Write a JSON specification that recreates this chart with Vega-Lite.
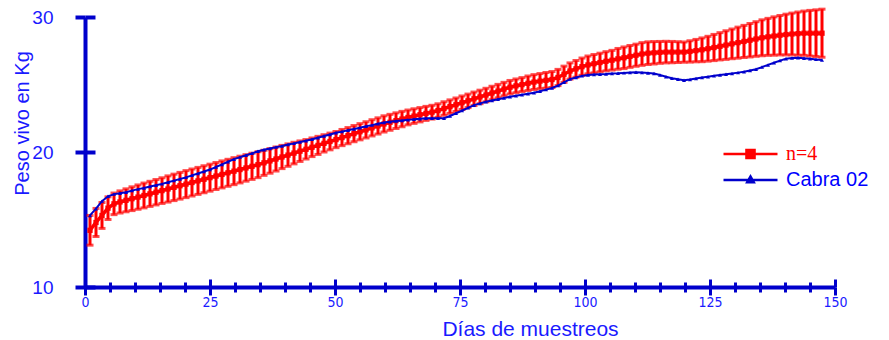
{
  "$schema": "https://vega.github.io/schema/vega-lite/v6.json",
  "width": 750,
  "height": 270,
  "autosize": "none",
  "padding": {"left": 85, "top": 17, "right": 54, "bottom": 53},
  "background": "white",
  "datasets": {
    "red": [
      {"d":1.0,"m":14.2,"lo":13.1,"hi":15.3},{"d":2.2,"m":14.78,"lo":13.74,"hi":15.82},{"d":3.4,"m":15.3,"lo":14.34,"hi":16.26},{"d":4.6,"m":15.84,"lo":15.0,"hi":16.68},{"d":5.8,"m":16.16,"lo":15.36,"hi":16.96},
      {"d":7.0,"m":16.3,"lo":15.48,"hi":17.12},{"d":8.2,"m":16.42,"lo":15.57,"hi":17.27},{"d":9.4,"m":16.54,"lo":15.66,"hi":17.42},{"d":10.6,"m":16.66,"lo":15.76,"hi":17.56},{"d":11.8,"m":16.78,"lo":15.86,"hi":17.7},
      {"d":13.0,"m":16.9,"lo":15.97,"hi":17.83},{"d":14.2,"m":17.02,"lo":16.08,"hi":17.96},{"d":15.4,"m":17.14,"lo":16.19,"hi":18.09},{"d":16.6,"m":17.26,"lo":16.29,"hi":18.23},{"d":17.8,"m":17.38,"lo":16.4,"hi":18.36},
      {"d":19.0,"m":17.5,"lo":16.51,"hi":18.49},{"d":20.2,"m":17.62,"lo":16.62,"hi":18.62},{"d":21.4,"m":17.74,"lo":16.74,"hi":18.74},{"d":22.6,"m":17.86,"lo":16.86,"hi":18.86},{"d":23.8,"m":17.98,"lo":16.98,"hi":18.98},
      {"d":25.0,"m":18.1,"lo":17.1,"hi":19.1},{"d":26.2,"m":18.22,"lo":17.22,"hi":19.22},{"d":27.4,"m":18.34,"lo":17.34,"hi":19.34},{"d":28.6,"m":18.46,"lo":17.46,"hi":19.46},{"d":29.8,"m":18.58,"lo":17.58,"hi":19.58},
      {"d":31.0,"m":18.7,"lo":17.71,"hi":19.69},{"d":32.2,"m":18.82,"lo":17.84,"hi":19.8},{"d":33.4,"m":18.94,"lo":17.97,"hi":19.91},{"d":34.6,"m":19.06,"lo":18.1,"hi":20.02},{"d":35.8,"m":19.2,"lo":18.27,"hi":20.13},
      {"d":37.0,"m":19.34,"lo":18.43,"hi":20.25},{"d":38.2,"m":19.48,"lo":18.59,"hi":20.37},{"d":39.4,"m":19.63,"lo":18.77,"hi":20.49},{"d":40.6,"m":19.77,"lo":18.94,"hi":20.6},{"d":41.8,"m":19.92,"lo":19.12,"hi":20.72},
      {"d":43.0,"m":20.06,"lo":19.3,"hi":20.82},{"d":44.2,"m":20.2,"lo":19.48,"hi":20.92},{"d":45.4,"m":20.35,"lo":19.66,"hi":21.04},{"d":46.6,"m":20.49,"lo":19.82,"hi":21.16},{"d":47.8,"m":20.64,"lo":20.0,"hi":21.28},
      {"d":49.0,"m":20.78,"lo":20.16,"hi":21.4},{"d":50.2,"m":20.92,"lo":20.32,"hi":21.52},{"d":51.4,"m":21.07,"lo":20.47,"hi":21.67},{"d":52.6,"m":21.21,"lo":20.61,"hi":21.81},{"d":53.8,"m":21.36,"lo":20.76,"hi":21.96},
      {"d":55.0,"m":21.5,"lo":20.9,"hi":22.1},{"d":56.2,"m":21.64,"lo":21.04,"hi":22.24},{"d":57.4,"m":21.79,"lo":21.19,"hi":22.39},{"d":58.6,"m":21.93,"lo":21.33,"hi":22.53},{"d":59.8,"m":22.08,"lo":21.48,"hi":22.68},
      {"d":61.0,"m":22.2,"lo":21.61,"hi":22.79},{"d":62.2,"m":22.32,"lo":21.74,"hi":22.9},{"d":63.4,"m":22.44,"lo":21.87,"hi":23.01},{"d":64.6,"m":22.56,"lo":22.01,"hi":23.11},{"d":65.8,"m":22.66,"lo":22.12,"hi":23.2},
      {"d":67.0,"m":22.76,"lo":22.23,"hi":23.29},{"d":68.2,"m":22.86,"lo":22.34,"hi":23.38},{"d":69.4,"m":22.95,"lo":22.44,"hi":23.46},{"d":70.6,"m":23.07,"lo":22.57,"hi":23.57},{"d":71.8,"m":23.22,"lo":22.72,"hi":23.72},
      {"d":73.0,"m":23.36,"lo":22.86,"hi":23.86},{"d":74.2,"m":23.5,"lo":23.0,"hi":24.0},{"d":75.4,"m":23.65,"lo":23.15,"hi":24.15},{"d":76.6,"m":23.79,"lo":23.29,"hi":24.29},{"d":77.8,"m":23.94,"lo":23.44,"hi":24.44},
      {"d":79.0,"m":24.08,"lo":23.58,"hi":24.58},{"d":80.2,"m":24.22,"lo":23.72,"hi":24.72},{"d":81.4,"m":24.37,"lo":23.87,"hi":24.87},{"d":82.6,"m":24.51,"lo":24.01,"hi":25.01},{"d":83.8,"m":24.66,"lo":24.16,"hi":25.16},
      {"d":85.0,"m":24.8,"lo":24.3,"hi":25.3},{"d":86.2,"m":24.9,"lo":24.39,"hi":25.41},{"d":87.4,"m":24.99,"lo":24.47,"hi":25.51},{"d":88.6,"m":25.09,"lo":24.55,"hi":25.63},{"d":89.8,"m":25.18,"lo":24.63,"hi":25.73},
      {"d":91.0,"m":25.25,"lo":24.69,"hi":25.81},{"d":92.2,"m":25.31,"lo":24.73,"hi":25.89},{"d":93.4,"m":25.37,"lo":24.78,"hi":25.96},{"d":94.6,"m":25.52,"lo":24.92,"hi":26.12},{"d":95.8,"m":25.76,"lo":25.16,"hi":26.36},
      {"d":97.0,"m":26.0,"lo":25.4,"hi":26.6},{"d":98.2,"m":26.16,"lo":25.54,"hi":26.78},{"d":99.4,"m":26.32,"lo":25.68,"hi":26.96},{"d":100.6,"m":26.45,"lo":25.79,"hi":27.11},{"d":101.8,"m":26.54,"lo":25.86,"hi":27.22},
      {"d":103.0,"m":26.63,"lo":25.94,"hi":27.32},{"d":104.2,"m":26.72,"lo":26.01,"hi":27.43},{"d":105.4,"m":26.8,"lo":26.07,"hi":27.53},{"d":106.6,"m":26.9,"lo":26.13,"hi":27.67},{"d":107.8,"m":26.98,"lo":26.18,"hi":27.78},
      {"d":109.0,"m":27.08,"lo":26.27,"hi":27.89},{"d":110.2,"m":27.17,"lo":26.35,"hi":27.99},{"d":111.4,"m":27.26,"lo":26.42,"hi":28.1},{"d":112.6,"m":27.32,"lo":26.48,"hi":28.16},{"d":113.8,"m":27.35,"lo":26.52,"hi":28.18},
      {"d":115.0,"m":27.38,"lo":26.57,"hi":28.19},{"d":116.2,"m":27.4,"lo":26.6,"hi":28.2},{"d":117.4,"m":27.4,"lo":26.61,"hi":28.19},{"d":118.6,"m":27.4,"lo":26.63,"hi":28.17},{"d":119.8,"m":27.4,"lo":26.65,"hi":28.15},
      {"d":121.0,"m":27.45,"lo":26.66,"hi":28.24},{"d":122.2,"m":27.51,"lo":26.68,"hi":28.34},{"d":123.4,"m":27.57,"lo":26.69,"hi":28.45},{"d":124.6,"m":27.65,"lo":26.73,"hi":28.57},{"d":125.8,"m":27.74,"lo":26.77,"hi":28.71},
      {"d":127.0,"m":27.83,"lo":26.82,"hi":28.84},{"d":128.2,"m":27.92,"lo":26.86,"hi":28.98},{"d":129.4,"m":28.01,"lo":26.91,"hi":29.11},{"d":130.6,"m":28.1,"lo":26.95,"hi":29.25},{"d":131.8,"m":28.19,"lo":27.0,"hi":29.38},
      {"d":133.0,"m":28.28,"lo":27.04,"hi":29.52},{"d":134.2,"m":28.37,"lo":27.09,"hi":29.65},{"d":135.4,"m":28.46,"lo":27.13,"hi":29.79},{"d":136.6,"m":28.53,"lo":27.16,"hi":29.9},{"d":137.8,"m":28.59,"lo":27.17,"hi":30.01},
      {"d":139.0,"m":28.65,"lo":27.19,"hi":30.11},{"d":140.2,"m":28.7,"lo":27.19,"hi":30.21},{"d":141.4,"m":28.74,"lo":27.19,"hi":30.29},{"d":142.6,"m":28.77,"lo":27.17,"hi":30.37},{"d":143.8,"m":28.8,"lo":27.16,"hi":30.44},
      {"d":145.0,"m":28.8,"lo":27.11,"hi":30.49},{"d":146.2,"m":28.8,"lo":27.07,"hi":30.53},{"d":147.4,"m":28.8,"lo":27.02,"hi":30.58}
    ],
    "blue": [
      {"d":1.0,"w":15.3},{"d":2.2,"w":15.8},{"d":3.4,"w":16.36},{"d":4.6,"w":16.72},{"d":5.8,"w":16.88},
      {"d":7.0,"w":16.95},{"d":8.2,"w":17.02},{"d":9.4,"w":17.14},{"d":10.6,"w":17.25},{"d":11.8,"w":17.34},
      {"d":13.0,"w":17.44},{"d":14.2,"w":17.54},{"d":15.4,"w":17.64},{"d":16.6,"w":17.76},{"d":17.8,"w":17.88},
      {"d":19.0,"w":18.0},{"d":20.2,"w":18.12},{"d":21.4,"w":18.27},{"d":22.6,"w":18.41},{"d":23.8,"w":18.56},
      {"d":25.0,"w":18.7},{"d":26.2,"w":18.89},{"d":27.4,"w":19.08},{"d":28.6,"w":19.28},{"d":29.8,"w":19.47},
      {"d":31.0,"w":19.62},{"d":32.2,"w":19.76},{"d":33.4,"w":19.9},{"d":34.6,"w":20.05},{"d":35.8,"w":20.16},
      {"d":37.0,"w":20.26},{"d":38.2,"w":20.36},{"d":39.4,"w":20.45},{"d":40.6,"w":20.55},{"d":41.8,"w":20.64},
      {"d":43.0,"w":20.74},{"d":44.2,"w":20.84},{"d":45.4,"w":20.94},{"d":46.6,"w":21.06},{"d":47.8,"w":21.18},
      {"d":49.0,"w":21.3},{"d":50.2,"w":21.42},{"d":51.4,"w":21.51},{"d":52.6,"w":21.61},{"d":53.8,"w":21.7},
      {"d":55.0,"w":21.8},{"d":56.2,"w":21.9},{"d":57.4,"w":21.99},{"d":58.6,"w":22.09},{"d":59.8,"w":22.18},
      {"d":61.0,"w":22.24},{"d":62.2,"w":22.29},{"d":63.4,"w":22.34},{"d":64.6,"w":22.38},{"d":65.8,"w":22.43},
      {"d":67.0,"w":22.47},{"d":68.2,"w":22.5},{"d":69.4,"w":22.5},{"d":70.6,"w":22.5},{"d":71.8,"w":22.5},
      {"d":73.0,"w":22.67},{"d":74.2,"w":22.87},{"d":75.4,"w":23.07},{"d":76.6,"w":23.27},{"d":77.8,"w":23.47},
      {"d":79.0,"w":23.6},{"d":80.2,"w":23.72},{"d":81.4,"w":23.81},{"d":82.6,"w":23.91},{"d":83.8,"w":24.0},
      {"d":85.0,"w":24.1},{"d":86.2,"w":24.17},{"d":87.4,"w":24.24},{"d":88.6,"w":24.32},{"d":89.8,"w":24.39},
      {"d":91.0,"w":24.5},{"d":92.2,"w":24.62},{"d":93.4,"w":24.74},{"d":94.6,"w":24.92},{"d":95.8,"w":25.16},
      {"d":97.0,"w":25.4},{"d":98.2,"w":25.52},{"d":99.4,"w":25.64},{"d":100.6,"w":25.71},{"d":101.8,"w":25.74},
      {"d":103.0,"w":25.76},{"d":104.2,"w":25.78},{"d":105.4,"w":25.81},{"d":106.6,"w":25.83},{"d":107.8,"w":25.86},
      {"d":109.0,"w":25.88},{"d":110.2,"w":25.9},{"d":111.4,"w":25.88},{"d":112.6,"w":25.85},{"d":113.8,"w":25.81},
      {"d":115.0,"w":25.7},{"d":116.2,"w":25.58},{"d":117.4,"w":25.47},{"d":118.6,"w":25.39},{"d":119.8,"w":25.31},
      {"d":121.0,"w":25.37},{"d":122.2,"w":25.45},{"d":123.4,"w":25.52},{"d":124.6,"w":25.58},{"d":125.8,"w":25.64},
      {"d":127.0,"w":25.7},{"d":128.2,"w":25.76},{"d":129.4,"w":25.82},{"d":130.6,"w":25.88},{"d":131.8,"w":25.94},
      {"d":133.0,"w":26.04},{"d":134.2,"w":26.13},{"d":135.4,"w":26.29},{"d":136.6,"w":26.45},{"d":137.8,"w":26.61},
      {"d":139.0,"w":26.77},{"d":140.2,"w":26.91},{"d":141.4,"w":26.97},{"d":142.6,"w":26.98},{"d":143.8,"w":26.94},
      {"d":145.0,"w":26.9},{"d":146.2,"w":26.86},{"d":147.4,"w":26.82}
    ]
  },
  "resolve": {"axis": {"x": "independent", "y": "independent"}},
  "layer": [
    {
      "data": {"name": "red"},
      "mark": {"type": "rule", "color": "#ff0000", "strokeWidth": 3},
      "encoding": {
        "x": {"field": "d", "type": "quantitative",
          "scale": {"domain": [0, 150], "nice": false, "zero": false},
          "axis": {"orient": "bottom", "values": [0, 25, 50, 75, 100, 125, 150], "tickSize": 8, "tickWidth": 3,
            "domain": true, "domainWidth": 4, "labelFont": "'DejaVu Sans Condensed', 'Liberation Sans'", "labelFontSize": 14,
            "labelPadding": 0, "labelDx": -9, "labelFlush": false, "labelOverlap": false,
            "title": "Días de muestreos", "titleFontSize": 21, "titleX": 445, "titleY": 48,
            "titleBaseline": "alphabetic", "titleAlign": "center"}},
        "y": {"field": "lo", "type": "quantitative",
          "scale": {"domain": [10, 30], "nice": false, "zero": false},
          "axis": {"orient": "left", "values": [10, 20, 30], "tickSize": 10, "tickWidth": 4,
            "domain": true, "domainWidth": 4, "labelFontSize": 19, "labelPadding": 22,
            "title": "Peso vivo en Kg", "titleFontSize": 20, "titleX": -63, "titleY": 106,
            "titleAngle": -90, "titleAlign": "center", "titleBaseline": "middle"}},
        "y2": {"field": "hi"}
      }
    },
    {
      "data": {"name": "red"},
      "mark": {"type": "tick", "color": "#ff0000", "orient": "horizontal", "size": 7, "thickness": 3},
      "encoding": {
        "x": {"field": "d", "type": "quantitative",
          "axis": {"orient": "bottom", "values": [5,10,15,20,30,35,40,45,55,60,65,70,80,85,90,95,105,110,115,120,130,135,140,145],
            "tickSize": 5, "tickWidth": 3, "labels": false, "domain": false, "title": null}},
        "y": {"field": "lo", "type": "quantitative",
          "axis": {"orient": "left", "values": [10, 20, 30], "offset": -10, "tickSize": 10, "tickWidth": 4, "labels": false, "domain": false, "title": null}}
      }
    },
    {
      "data": {"name": "red"},
      "mark": {"type": "tick", "color": "#ff0000", "orient": "horizontal", "size": 7, "thickness": 3},
      "encoding": {
        "x": {"field": "d", "type": "quantitative",
          "axis": {"orient": "bottom", "values": [0, 25, 50, 75, 100, 125, 150], "offset": -8, "tickSize": 8, "tickWidth": 3, "labels": false, "domain": false, "title": null}},
        "y": {"field": "hi", "type": "quantitative", "axis": null}
      }
    },
    {
      "data": {"name": "red"},
      "mark": {"type": "line", "strokeWidth": 3.5, "point": {"shape": "square", "size": 28, "filled": true, "color": "#ff0000"}},
      "encoding": {
        "x": {"field": "d", "type": "quantitative",
          "axis": {"orient": "bottom", "values": [5,10,15,20,30,35,40,45,55,60,65,70,80,85,90,95,105,110,115,120,130,135,140,145],
            "offset": -5, "tickSize": 5, "tickWidth": 3, "labels": false, "domain": false, "title": null}},
        "y": {"field": "m", "type": "quantitative", "axis": null},
        "color": {"datum": "n=4", "type": "nominal",
          "scale": {"domain": ["n=4", "Cabra 02"], "range": ["#ff0000", "#0000cc"]},
          "legend": {"orient": "none", "legendX": 637, "legendY": 124, "title": null,
            "symbolSize": 2916, "symbolStrokeWidth": 2.5, "labelFontSize": 20, "labelOffset": 7,
            "clipHeight": 26, "rowPadding": 0, "padding": 0,
            "encode": {
              "symbols": {"update": {
                "shape": {"signal": "datum.value === 'n=4' ? 'M-1,0H1M-0.15,-0.15H0.15V0.15H-0.15Z' : 'M-1,0H1M-0.12,0.08L0,-0.13L0.12,0.08Z'"},
                "fill": {"signal": "datum.value === 'n=4' ? '#ff0000' : '#0000ff'"},
                "stroke": {"signal": "datum.value === 'n=4' ? '#ff0000' : '#0000ff'"},
                "strokeWidth": {"value": 2.5},
                "opacity": {"value": 1}}},
              "labels": {"update": {
                "fill": {"signal": "datum.value === 'n=4' ? '#ff0000' : '#0000ff'"},
                "font": {"signal": "datum.value === 'n=4' ? 'Liberation Serif' : 'Liberation Sans'"}}}
            }}}
      }
    },
    {
      "data": {"name": "blue"},
      "mark": {"type": "line", "strokeWidth": 2, "point": {"shape": "triangle-up", "size": 16, "filled": true, "color": "#0000cc"}},
      "encoding": {
        "x": {"field": "d", "type": "quantitative", "axis": null},
        "y": {"field": "w", "type": "quantitative", "axis": null},
        "color": {"datum": "Cabra 02", "type": "nominal"}
      }
    }
  ],
  "config": {
    "view": {"stroke": null},
    "axis": {"grid": false, "domainColor": "#0000cc", "tickColor": "#0000cc", "labelColor": "#1a1aff",
      "titleColor": "#1a1aff", "labelFont": "Liberation Sans", "titleFont": "Liberation Sans", "titleFontWeight": "normal"}
  }
}
